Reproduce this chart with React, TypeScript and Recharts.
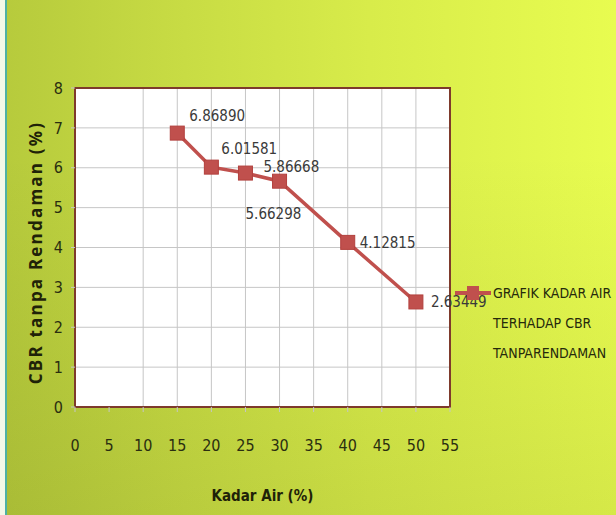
import React from "react";
import {
  LineChart,
  Line,
  XAxis,
  YAxis,
  CartesianGrid,
  ReferenceArea,
  LabelList,
} from "recharts";

const kadarAir = [15, 20, 25, 30, 40, 50];
const cbrValues = [6.8689, 6.01581, 5.86668, 5.66298, 4.12815, 2.63449];
const cbrLabels = ["6.86890", "6.01581", "5.86668", "5.66298", "4.12815", "2.63449"];
const xTicks = [0, 5, 10, 15, 20, 25, 30, 35, 40, 45, 50, 55];
const yTicks = [0, 1, 2, 3, 4, 5, 6, 7, 8];
const gridX = [10, 15, 20, 25, 30, 35, 40, 45, 50];
const seriesName = ["GRAFIK KADAR AIR", "TERHADAP CBR", "TANPARENDAMAN"];

const data = kadarAir.map((x, i) => ({ x, cbr: cbrValues[i], label: cbrLabels[i] }));

const NARROW = "'DejaVu Sans Condensed', 'Liberation Sans Narrow', sans-serif";
const RED = "#c0504d";

// label offsets relative to each point, like Excel placed them
const labelOffsets = [
  { dx: 12, dy: -17 },
  { dx: 10, dy: -18 },
  { dx: 18, dy: -6 },
  { dx: -34, dy: 33 },
  { dx: 12, dy: 1 },
  { dx: 15, dy: 0 },
];

function PointLabel(props: any) {
  const { x, y, index, value } = props;
  const o = labelOffsets[index] || { dx: 10, dy: 0 };
  return (
    <text
      x={x + o.dx}
      y={y + o.dy}
      dominantBaseline="central"
      fill="#3a3a3a"
      fontSize={15}
      fontFamily={NARROW}
    >
      {value}
    </text>
  );
}

function Square(props: any) {
  const { cx, cy } = props;
  if (cx == null || cy == null) return null;
  return <rect x={cx - 7} y={cy - 7} width={14} height={14} fill={RED} stroke="#b2403d" strokeWidth={1} />;
}

function YLabel(props: any) {
  const vb = props.viewBox || { x: 0, y: 0, width: 0, height: 0 };
  const cx = vb.x + 35;
  const cy = vb.y + vb.height / 2 + 5;
  return (
    <text
      x={cx}
      y={cy}
      transform={`rotate(-90 ${cx} ${cy})`}
      textAnchor="middle"
      dominantBaseline="central"
      fontFamily="'Open Sans', sans-serif"
      fontWeight="bold"
      fontSize={17}
      letterSpacing={2.2}
      fill="#1f2208"
    >
      CBR tanpa Rendaman  (%)
    </text>
  );
}

function LegendBox() {
  return (
    <div
      style={{
        position: "absolute",
        left: 455,
        top: 281,
        display: "flex",
        alignItems: "flex-start",
        fontFamily: NARROW,
        fontSize: 14,
        color: "#262a0c",
        whiteSpace: "nowrap",
      }}
    >
      <svg width={38} height={24}>
        <line x1={0} y1={12} x2={36} y2={12} stroke={RED} strokeWidth={4} />
        <rect x={12} y={5} width={12} height={14} fill={RED} />
      </svg>
      <div style={{ lineHeight: "30px", marginTop: -3 }}>
        {seriesName.map((s) => (
          <div key={s}>{s}</div>
        ))}
      </div>
    </div>
  );
}

export default function App() {
  return (
    <div
      style={{
        position: "absolute",
        left: 0,
        top: 0,
        width: 616,
        height: 515,
        background:
          "linear-gradient(to bottom, rgba(0,0,0,0) 30%, rgba(50,60,0,0.10) 100%), linear-gradient(to right, #b6ca3c 0%, #c8dc44 30%, #d8ec4a 60%, #e8fc50 100%)",
      }}
    >
      <div style={{ position: "absolute", left: 0, top: 0, width: 5, height: 515, background: "#f4f8e8" }} />
      <div style={{ position: "absolute", left: 5, top: 0, width: 2, height: 515, background: "#4fb0a4" }} />
      <LineChart width={616} height={515} data={data} margin={{ top: 88, right: 166, bottom: 78, left: 0 }}>
        <CartesianGrid
          fill="#ffffff"
          stroke="#c6c6c6"
          verticalValues={gridX}
          horizontalValues={yTicks}
        />
        <ReferenceArea x1={0} x2={55} y1={0} y2={8} fill="none" stroke="#7e3a2c" strokeWidth={2} ifOverflow="visible" />
        <XAxis
          dataKey="x"
          type="number"
          domain={[0, 55]}
          ticks={xTicks}
          interval={0}
          axisLine={false}
          tickLine={{ stroke: "#c6c6c6" }}
          tickSize={5}
          tickMargin={28}
          tick={{ fill: "#2a2e10", fontSize: 16, fontFamily: NARROW }}
          label={{
            value: "Kadar Air (%)",
            position: "insideBottom",
            offset: -64,
            fill: "#1f2208",
            fontSize: 15,
            fontWeight: "bold",
            fontFamily: NARROW,
          }}
        />
        <YAxis
          type="number"
          domain={[0, 8]}
          ticks={yTicks}
          interval={0}
          width={75}
          axisLine={false}
          tickLine={{ stroke: "#c6c6c6" }}
          tickSize={4}
          tickMargin={8}
          tick={{ fill: "#2a2e10", fontSize: 16, fontFamily: NARROW }}
          label={{ content: YLabel }}
        />
        <Line
          dataKey="cbr"
          stroke={RED}
          strokeWidth={3.5}
          dot={<Square />}
          activeDot={false}
          isAnimationActive={false}
        >
          <LabelList dataKey="label" content={PointLabel} />
        </Line>
      </LineChart>
      <LegendBox />
    </div>
  );
}
